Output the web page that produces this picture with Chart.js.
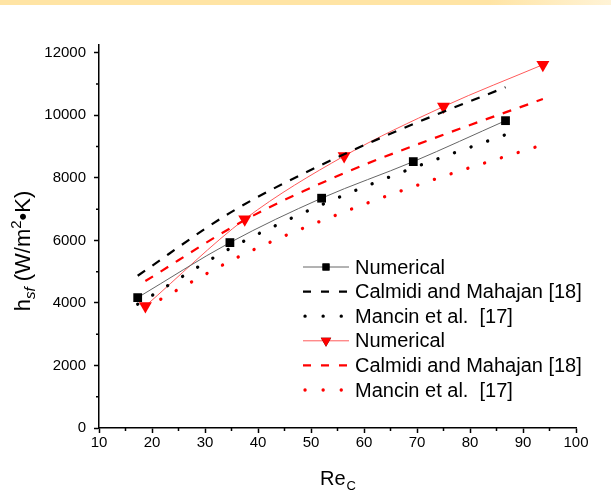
<!DOCTYPE html>
<html>
<head>
<meta charset="utf-8">
<script src="https://cdn.jsdelivr.net/npm/chart.js@4.4.1/dist/chart.umd.min.js"></script>
<style>
  body { margin: 0; background: #fff; }
  #wrap { position: relative; width: 611px; height: 497px; }
  #strip { position: absolute; left: 0; top: 0; width: 611px; height: 5px;
           background: linear-gradient(to right, #ffe4a4 0%, #ffe4a4 80%, #fff3d6 100%); }
  canvas { position: absolute; left: 0; top: 0; }
</style>
</head>
<body>
<div id="wrap">
  <canvas id="chart" width="611" height="497"></canvas>
  <div id="strip"></div>
</div>
<script>
// Re values for the two cases
const reBlack = [17.3, 34.7, 52.0, 69.3, 86.7];
const reRed = [18.75, 37.5, 56.25, 75.0, 93.75];

// h_sf values
const numBlack = [4170, 5930, 7350, 8520, 9830];
const calmidiBlack = [4870, 6880, 8420, 9720, 10900];
const mancinBlack = [3960, 5740, 7140, 8320, 9380];
const numRed = [3900, 6680, 8700, 10280, 11620];
const calmidiRed = [4700, 6650, 8150, 9380, 10520];
const mancinRed = [3850, 5570, 6910, 8050, 9060];

// axis ticks
const xTicks = [10, 20, 30, 40, 50, 60, 70, 80, 90, 100];
const yTicks = [0, 2000, 4000, 6000, 8000, 10000, 12000];
const xMinor = [15, 25, 35, 45, 55, 65, 75, 85, 95];
const yMinor = [1000, 3000, 5000, 7000, 9000, 11000];

const legendLabels = ['Numerical', 'Calmidi and Mahajan [18]', 'Mancin et al.  [17]',
                      'Numerical', 'Calmidi and Mahajan [18]', 'Mancin et al.  [17]'];

const FONT = '"Liberation Sans", Arial, sans-serif';

function pts(xs, ys) {
    return xs.map((x, i) => ({ x: x, y: ys[i] }));
}

const dashed = { borderWidth: 2.2, borderDash: [9, 9], pointRadius: 0, borderCapStyle: 'butt' };
const dotted = { borderWidth: 3.3, borderDash: [0.1, 17.5], pointRadius: 0, borderCapStyle: 'round' };

const datasets = [
    { data: pts(reBlack, calmidiBlack), borderColor: '#000', ...dashed },
    { data: pts(reBlack, mancinBlack), borderColor: '#000', ...dotted },
    { data: pts(reRed, calmidiRed), borderColor: '#ff0000', ...dashed },
    { data: pts(reRed, mancinRed), borderColor: '#ff0000', ...dotted },
    { data: pts(reBlack, numBlack), borderColor: '#666', borderWidth: 1,
      pointStyle: 'rect', pointRadius: 6.2, pointBackgroundColor: '#000', pointBorderColor: '#000', pointBorderWidth: 0 },
    { data: pts(reRed, numRed), borderColor: '#ff5a5a', borderWidth: 1,
      pointStyle: 'triangle', pointRotation: 180, pointRadius: 7.5,
      pointBackgroundColor: '#ff0000', pointBorderColor: '#ff0000', pointBorderWidth: 0 }
];
// which dataset each legend row shows, and the dash used for its sample
const legendOrder = [4, 0, 1, 5, 2, 3];
const legendDash = [[], [8, 10], [0.1, 18], [], [8, 10], [0.1, 18]];

// minor ticks, axis titles and the in-plot legend
const extras = {
    id: 'extras',
    afterDraw(chart) {
        const ctx = chart.ctx;
        const xs = chart.scales.x, ys = chart.scales.y;
        const area = chart.chartArea;
        ctx.save();
        ctx.strokeStyle = '#000';
        ctx.lineWidth = 1.5;
        ctx.beginPath();
        xMinor.forEach(v => {
            const px = xs.getPixelForValue(v);
            ctx.moveTo(px, area.bottom);
            ctx.lineTo(px, area.bottom + 3);
        });
        yMinor.forEach(v => {
            const py = ys.getPixelForValue(v);
            ctx.moveTo(area.left, py);
            ctx.lineTo(area.left - 3, py);
        });
        ctx.stroke();

        // x title: Re_C
        ctx.fillStyle = '#000';
        ctx.textBaseline = 'alphabetic';
        ctx.font = '20px ' + FONT;
        const wRe = ctx.measureText('Re').width;
        ctx.font = '13px ' + FONT;
        const wC = ctx.measureText('C').width;
        let x0 = (area.left + area.right) / 2 - (wRe + wC) / 2;
        ctx.font = '20px ' + FONT;
        ctx.fillText('Re', x0, 485);
        ctx.font = '13px ' + FONT;
        ctx.fillText('C', x0 + wRe + 1, 490);

        // y title: h_sf (W/m²•K)
        const parts = [
            { t: 'h', f: '22px ' + FONT, dy: 0 },
            { t: 'sf', f: 'italic 15px ' + FONT, dy: 5 },
            { t: ' (W/m', f: '22px ' + FONT, dy: 0 },
            { t: '2', f: '15px ' + FONT, dy: -9 },
            { t: '\u2022K)', f: '22px ' + FONT, dy: 0 }
        ];
        let total = 0;
        parts.forEach(p => { ctx.font = p.f; p.w = ctx.measureText(p.t).width; total += p.w; });
        ctx.translate(30, 251);
        ctx.rotate(-Math.PI / 2);
        let cx = -total / 2;
        parts.forEach(p => {
            ctx.font = p.f;
            ctx.fillText(p.t, cx, p.dy);
            cx += p.w;
        });
        ctx.setTransform(1, 0, 0, 1, 0, 0);

        // legend inside the plot
        legendOrder.forEach((di, i) => {
            const ds = chart.data.datasets[di];
            const y = 267 + i * 24.6;
            ctx.save();
            ctx.strokeStyle = ds.borderColor;
            ctx.lineWidth = ds.borderWidth;
            ctx.lineCap = ds.borderCapStyle || 'butt';
            ctx.setLineDash(legendDash[i]);
            ctx.beginPath();
            ctx.moveTo(legendDash[i][0] < 1 ? 305 : 303, y);
            ctx.lineTo(349, y);
            ctx.stroke();
            ctx.restore();
            if (ds.pointRadius > 0) {
                Chart.helpers.drawPoint(ctx, {
                    pointStyle: ds.pointStyle, rotation: ds.pointRotation || 0,
                    radius: ds.pointRadius * 0.8, borderWidth: 0
                }, 326, y);
                ctx.fillStyle = ds.pointBackgroundColor;
                ctx.fill();
            }
            ctx.fillStyle = '#000';
            ctx.font = '20px ' + FONT;
            ctx.textBaseline = 'middle';
            ctx.fillText(legendLabels[i], 355, y + 1);
        });
        ctx.restore();
    }
};

const axisCommon = {
    type: 'linear',
    border: { color: '#000', width: 1.5 },
    grid: { drawOnChartArea: false, drawTicks: true, tickLength: 5, tickColor: '#000', tickWidth: 1.5 },
    ticks: { color: '#000', font: { family: FONT, size: 15 }, callback: v => String(v) }
};

new Chart(document.getElementById('chart'), {
    type: 'line',
    data: { datasets: datasets },
    options: {
        responsive: false,
        animation: false,
        layout: { padding: { top: 45, right: 35, left: 0, bottom: 0 } },
        elements: { line: { cubicInterpolationMode: 'monotone' } },
        plugins: { legend: { display: false }, tooltip: { enabled: false } },
        scales: {
            x: {
                ...axisCommon,
                min: 10, max: 100,
                ticks: { ...axisCommon.ticks, padding: 1, maxRotation: 0 },
                afterBuildTicks: s => { s.ticks = xTicks.map(v => ({ value: v })); },
                afterFit: s => { s.height = 69; }
            },
            y: {
                ...axisCommon,
                min: 0, max: 12250,
                ticks: { ...axisCommon.ticks, padding: 8 },
                afterBuildTicks: s => { s.ticks = yTicks.map(v => ({ value: v })); },
                afterFit: s => { s.width = 99; }
            }
        }
    },
    plugins: [extras]
});
</script>
</body>
</html>
